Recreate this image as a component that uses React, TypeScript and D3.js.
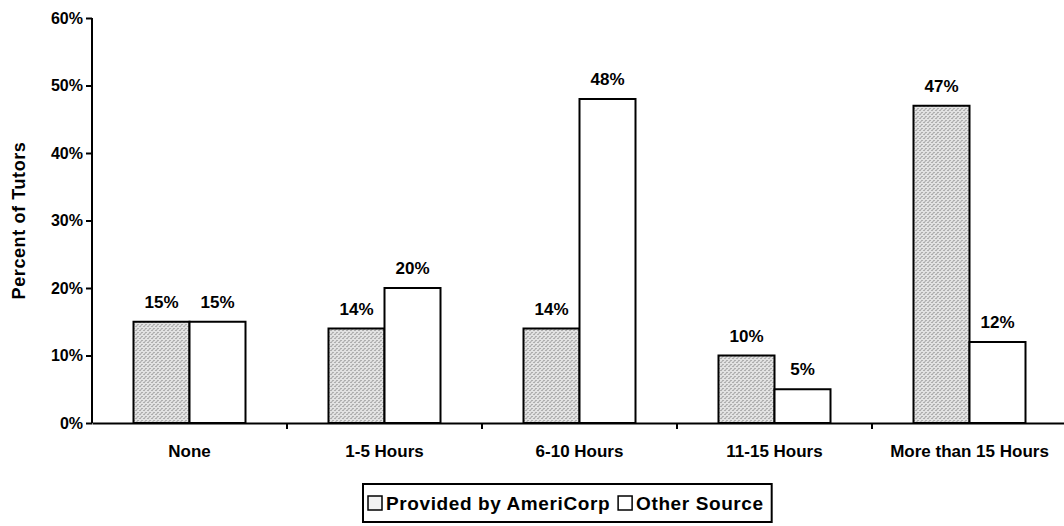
import { useRef, useEffect } from "react";
import * as d3 from "d3";

const categories = ["None", "1-5 Hours", "6-10 Hours", "11-15 Hours", "More than 15 Hours"];
const seriesNames = ["Provided by AmeriCorp", "Other Source"];
const americorp = [15, 14, 14, 10, 47];
const otherSource = [15, 20, 48, 5, 12];
const yTicks = [0, 10, 20, 30, 40, 50, 60];

const FONT = "Arial, 'Liberation Sans', Helvetica, sans-serif";

const App = () => {
  const svgRef = useRef<SVGSVGElement>(null);

  useEffect(() => {
    const w = 1064;
    const h = 526;
    const svg = d3.select(svgRef.current).attr("width", w).attr("height", h);
    svg.selectAll("*").remove();

    const left = 92;
    const x0 = d3.scaleBand().domain(categories).range([left, left + 975]);
    const y = d3.scaleLinear().domain([0, 60]).range([423, 18]);
    const x1 = d3.scaleBand().domain(seriesNames).range([0, 112]);
    const groupOffset = (x0.bandwidth() - 112) / 2;

    // stipple texture for the AmeriCorp bars
    const defs = svg.append("defs");
    const pat = defs
      .append("pattern")
      .attr("id", "stipple")
      .attr("patternUnits", "userSpaceOnUse")
      .attr("width", 4)
      .attr("height", 4);
    pat.append("rect").attr("width", 4).attr("height", 4).attr("fill", "#e2e2e2");
    pat.append("rect").attr("x", 0).attr("y", 0).attr("width", 1).attr("height", 1).attr("fill", "#7a7a7a");
    pat.append("rect").attr("x", 2).attr("y", 2).attr("width", 1).attr("height", 1).attr("fill", "#7a7a7a");
    pat.append("rect").attr("x", 3).attr("y", 1).attr("width", 1).attr("height", 1).attr("fill", "#a0a0a0");

    // y axis
    const yAxis = d3.axisLeft(y).tickValues(yTicks).tickFormat((d) => `${d}%`).tickSize(6).tickPadding(3);
    const yg = svg.append("g").attr("transform", `translate(${left},0)`).call(yAxis);
    yg.select(".domain").attr("stroke", "#000").attr("stroke-width", 2).attr("d", `M0,${y(60)}V${y(0)}`);
    yg.selectAll(".tick line").attr("stroke", "#000").attr("stroke-width", 2);
    yg.selectAll(".tick text")
      .attr("fill", "#000")
      .style("font-family", FONT)
      .style("font-size", "16px")
      .style("font-weight", "bold");

    svg
      .append("text")
      .attr("transform", `translate(25,${y(30)}) rotate(-90)`)
      .attr("text-anchor", "middle")
      .style("font-family", FONT)
      .style("font-size", "18px")
      .style("font-weight", "bold")
      .style("letter-spacing", "0.6px")
      .text("Percent of Tutors");

    // bars
    const groups = svg
      .selectAll(".grp")
      .data(categories)
      .join("g")
      .attr("transform", (d) => `translate(${(x0(d) as number) + groupOffset},0)`);

    const vals = (i: number) => [
      { s: seriesNames[0], v: americorp[i] },
      { s: seriesNames[1], v: otherSource[i] },
    ];

    groups
      .selectAll("rect")
      .data((_d, i) => vals(i))
      .join("rect")
      .attr("x", (d) => x1(d.s) as number)
      .attr("y", (d) => y(d.v))
      .attr("width", x1.bandwidth())
      .attr("height", (d) => y(0) - y(d.v))
      .attr("fill", (d) => (d.s === seriesNames[0] ? "url(#stipple)" : "#fff"))
      .attr("stroke", "#000")
      .attr("stroke-width", 2);

    groups
      .selectAll("text.val")
      .data((_d, i) => vals(i))
      .join("text")
      .attr("class", "val")
      .attr("x", (d) => (x1(d.s) as number) + x1.bandwidth() / 2)
      .attr("y", (d) => y(d.v) - 14)
      .attr("text-anchor", "middle")
      .style("font-family", FONT)
      .style("font-size", "17px")
      .style("font-weight", "bold")
      .text((d) => `${d.v}%`);

    // x axis
    const xAxis = d3.axisBottom(x0).tickSize(0).tickPadding(22);
    const xg = svg.append("g").attr("transform", `translate(0,${y(0)})`).call(xAxis);
    xg.select(".domain").attr("stroke", "#000").attr("stroke-width", 2);
    xg.selectAll(".tick text")
      .attr("fill", "#000")
      .style("font-family", FONT)
      .style("font-size", "17px")
      .style("font-weight", "bold");
    // tick marks between categories
    xg.selectAll(".sep")
      .data(categories.slice(1))
      .join("line")
      .attr("class", "sep")
      .attr("x1", (d) => x0(d) as number)
      .attr("x2", (d) => x0(d) as number)
      .attr("y1", 0)
      .attr("y2", 6)
      .attr("stroke", "#000")
      .attr("stroke-width", 2);

    // legend
    const lg = svg.append("g").attr("transform", "translate(363,484)");
    const box = lg
      .append("rect")
      .attr("height", 38)
      .attr("fill", "#fff")
      .attr("stroke", "#000")
      .attr("stroke-width", 2);
    let cx = 5;
    seriesNames.forEach((name, i) => {
      const g = lg.append("g").attr("transform", `translate(${cx},0)`);
      g.append("rect")
        .attr("x", 0)
        .attr("y", 12)
        .attr("width", 14)
        .attr("height", 14)
        .attr("fill", i === 0 ? "#f2f2f2" : "#fff")
        .attr("stroke", "#000")
        .attr("stroke-width", 1.5);
      const t = g
        .append("text")
        .attr("x", 18)
        .attr("y", 26)
        .style("font-family", FONT)
        .style("font-size", "19px")
        .style("font-weight", "bold")
        .style("letter-spacing", "0.6px")
        .text(name);
      const tw = (t.node() as SVGTextElement).getComputedTextLength();
      cx += 18 + tw + 8;
    });
    box.attr("width", cx);
  }, []);

  return (
    <div style={{ position: "absolute", left: 0, top: 0 }}>
      <svg ref={svgRef}></svg>
    </div>
  );
};

export default App;
